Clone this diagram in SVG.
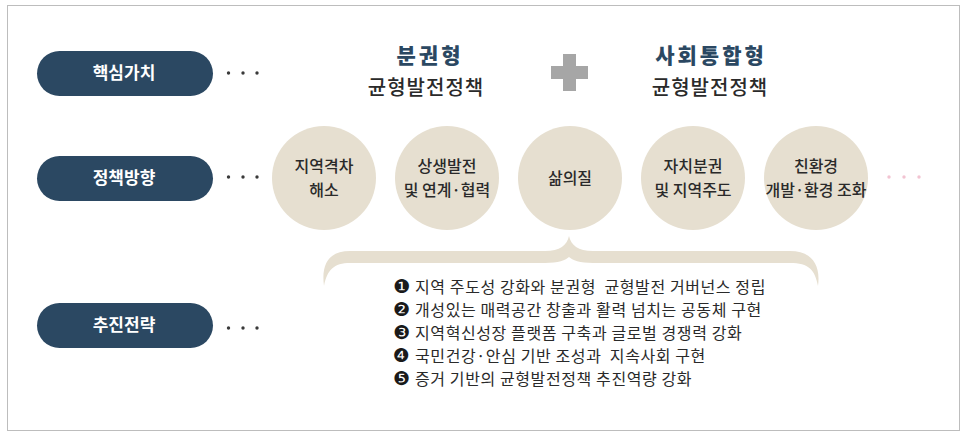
<svg xmlns="http://www.w3.org/2000/svg" width="966" height="435" viewBox="0 0 966 435">
<style>
.pill{fill:#2b4862}
.pt{fill:#fff;font-family:"Noto Sans CJK KR",sans-serif;font-weight:700;font-size:17px;text-anchor:middle}
.dot{fill:#3a3a3a}
.pdot{fill:#f2c4d2}
.circ{fill:#e6dfd0}
.ct{fill:#2a2a2a;font-family:"Noto Sans CJK KR",sans-serif;font-weight:500;font-size:16px;text-anchor:middle}
.h1{fill:#2b4862;font-family:"Noto Sans CJK KR",sans-serif;font-weight:900;font-size:21px;letter-spacing:3px;text-anchor:middle}
.h2{fill:#2a2a2a;font-family:"Noto Sans CJK KR",sans-serif;font-weight:500;font-size:20px;letter-spacing:1px;text-anchor:middle}
.li{fill:#2a2a2a;font-family:"Noto Sans CJK KR",sans-serif;font-size:16px;letter-spacing:0.6px;white-space:pre}
.bl{fill:#1a1a1a;font-family:"DejaVu Sans",sans-serif;font-size:19px}
</style>
<rect x="7.5" y="5.5" width="952" height="425" fill="#fff" stroke="#bdbdbd" stroke-width="1"/>

<g id="pill-core">
<rect class="pill" x="37" y="51" width="176" height="45" rx="22.5"/>
<text class="pt" x="124" y="79">핵심가치</text>
<circle class="dot" cx="228.5" cy="73" r="1.7"/><circle class="dot" cx="243" cy="73" r="1.7"/><circle class="dot" cx="257" cy="73" r="1.7"/>
</g>
<g id="pill-direction">
<rect class="pill" x="37" y="156" width="176" height="45" rx="22.5"/>
<text class="pt" x="124" y="184">정책방향</text>
<circle class="dot" cx="228.5" cy="177" r="1.7"/><circle class="dot" cx="243" cy="177" r="1.7"/><circle class="dot" cx="257" cy="177" r="1.7"/>
</g>
<g id="pill-strategy">
<rect class="pill" x="37" y="303" width="176" height="45" rx="22.5"/>
<text class="pt" x="124" y="331">추진전략</text>
<circle class="dot" cx="228.5" cy="328" r="1.7"/><circle class="dot" cx="243" cy="328" r="1.7"/><circle class="dot" cx="257" cy="328" r="1.7"/>
</g>

<g id="head-decentral">
<text class="h1" x="430" y="63">분권형</text>
<text class="h2" x="426" y="95">균형발전정책</text>
</g>
<g id="plus">
<rect x="551" y="66" width="37" height="13" fill="#a6a6a6"/>
<rect x="563" y="54" width="13" height="37" fill="#a6a6a6"/>
</g>
<g id="head-social">
<text class="h1" x="711" y="63">사회통합형</text>
<text class="h2" x="710" y="95">균형발전정책</text>
</g>

<g id="c1"><circle class="circ" cx="324" cy="178" r="52"/>
<text class="ct" x="324" y="172">지역격차</text><text class="ct" x="324" y="196">해소</text></g>
<g id="c2"><circle class="circ" cx="447" cy="178" r="52"/>
<text class="ct" x="447" y="172">상생발전</text><text class="ct" x="447" y="196">및 연계·협력</text></g>
<g id="c3"><circle class="circ" cx="570" cy="178" r="52"/>
<text class="ct" x="570" y="184">삶의질</text></g>
<g id="c4"><circle class="circ" cx="693" cy="178" r="52"/>
<text class="ct" x="693" y="172">자치분권</text><text class="ct" x="693" y="196">및 지역주도</text></g>
<g id="c5"><circle class="circ" cx="816" cy="178" r="52"/>
<text class="ct" x="816" y="172">친환경</text><text class="ct" x="816" y="196">개발·환경 조화</text></g>
<g id="more"><circle class="pdot" cx="889" cy="177" r="1.7"/><circle class="pdot" cx="904" cy="177" r="1.7"/><circle class="pdot" cx="919" cy="177" r="1.7"/></g>

<g id="connectors">
<path class="circ" d="M324,286 C321,264 329,251 350,251 H545 C560,251 567,245 569,236 C571,245 578,251 593,251 H790 C811,251 821,264 818,286 C815,270 809,263 790,263 H593 C580,263 572,260 569,257 C566,260 558,263 545,263 H350 C334,263 327,270 324,286 Z"/>
</g>

<g id="list">
<text class="bl" x="393" y="293">❶</text><text class="li" x="415" y="293">지역 주도성 강화와 분권형  균형발전 거버넌스 정립</text>
<text class="bl" x="393" y="316">❷</text><text class="li" x="415" y="316">개성있는 매력공간 창출과 활력 넘치는 공동체 구현</text>
<text class="bl" x="393" y="339">❸</text><text class="li" x="415" y="339">지역혁신성장 플랫폼 구축과 글로벌 경쟁력 강화</text>
<text class="bl" x="393" y="362">❹</text><text class="li" x="415" y="362">국민건강·안심 기반 조성과  지속사회 구현</text>
<text class="bl" x="393" y="385">❺</text><text class="li" x="415" y="385">증거 기반의 균형발전정책 추진역량 강화</text>
</g>
</svg>
